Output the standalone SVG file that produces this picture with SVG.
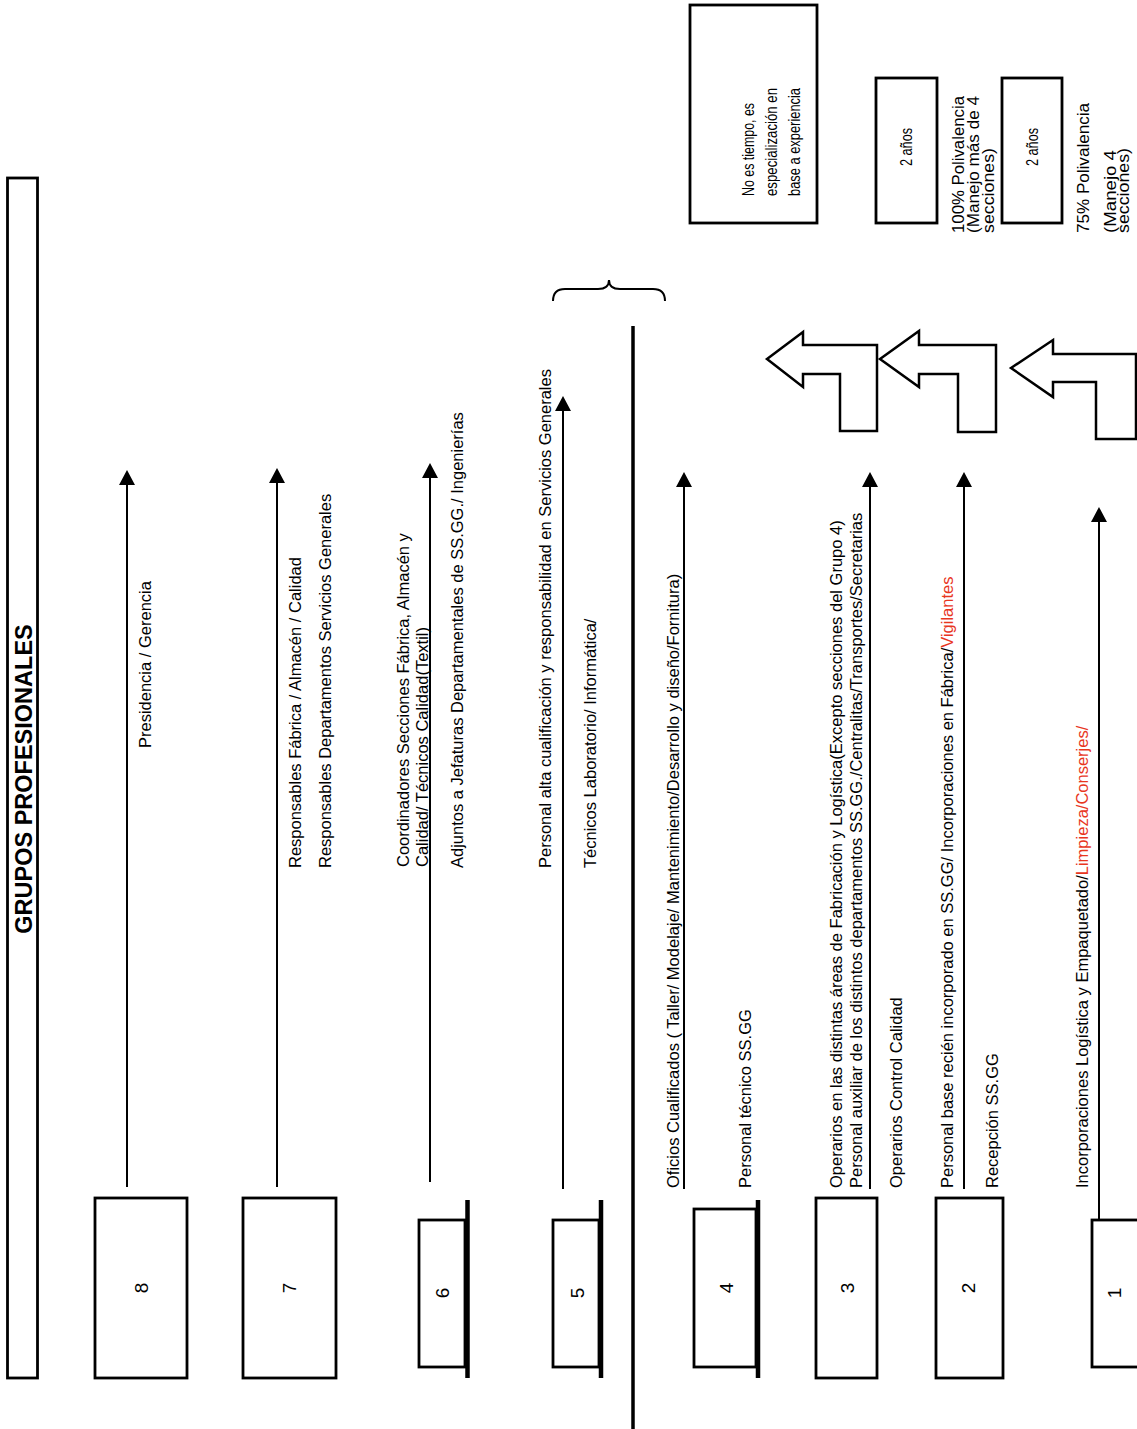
<svg xmlns="http://www.w3.org/2000/svg" width="1137" height="1429" viewBox="0 0 1137 1429">
<style>
text{font-family:"Liberation Sans",Arial,sans-serif;fill:#000}
.t{font-size:16.5px}
.n{font-size:19px}
.s{font-size:16.5px}
.p{font-size:16px}
.title{font-size:23.5px;font-weight:bold}
.red{fill:#e8361e}
.box{fill:#fff;stroke:#000;stroke-width:2.8}
.bar{stroke:#000;stroke-width:4.5}
.ln{stroke:#000;stroke-width:2;fill:none;marker-end:url(#ah)}
.bent{fill:#fff;stroke:#000;stroke-width:2.5;stroke-linejoin:miter}
</style>
<defs>
<marker id="ah" markerUnits="userSpaceOnUse" markerWidth="16" markerHeight="16" refX="13" refY="8" orient="auto" viewBox="0 0 16 16">
<path d="M0,0 L15,8 L0,16 z" fill="#000"/>
</marker>
</defs>
<rect width="1137" height="1429" fill="#fff"/>

<g id="title">
<rect x="7.5" y="178" width="30" height="1200" class="box"/>
<text class="title" text-anchor="middle" transform="translate(31.5,779) rotate(-90)">GRUPOS PROFESIONALES</text>
</g>

<g id="connectors">
<path class="ln" d="M127,1187 L127,472"/>
<path class="ln" d="M277,1187 L277,470"/>
<path class="ln" d="M430,1182 L430,465"/>
<path class="ln" d="M563,1189 L563,398"/>
<path class="ln" d="M684,1189 L684,474"/>
<path class="ln" d="M870,1189 L870,474"/>
<path class="ln" d="M964,1189 L964,474"/>
<path class="ln" d="M1099,1225 L1099,509"/>
<line x1="633" y1="326" x2="633" y2="1429" stroke="#000" stroke-width="3.5"/>
<path d="M553,301 Q553,289 565,289 L598,289 Q609,289 609,280 Q609,289 620,289 L653,289 Q665,289 665,301" fill="none" stroke="#000" stroke-width="2"/>
</g>

<g id="g8">
<rect x="95" y="1198" width="92" height="180" class="box"/>
<text class="n" text-anchor="middle" dy=".35em" transform="translate(141,1288) rotate(-90)">8</text>
<text class="t" transform="translate(151,748) rotate(-90)">Presidencia / Gerencia</text>
</g>

<g id="g7">
<rect x="243" y="1198" width="93" height="180" class="box"/>
<text class="n" text-anchor="middle" dy=".35em" transform="translate(289,1288) rotate(-90)">7</text>
<text class="t" transform="translate(301,868) rotate(-90)">Responsables Fábrica / Almacén / Calidad</text>
<text class="t" transform="translate(331,868) rotate(-90)">Responsables Departamentos Servicios Generales</text>
</g>

<g id="g6">
<rect x="419" y="1220" width="46" height="147" class="box"/>
<line x1="467.5" y1="1200" x2="467.5" y2="1378" class="bar"/>
<text class="n" text-anchor="middle" dy=".35em" transform="translate(442,1293) rotate(-90)">6</text>
<text class="t" transform="translate(408.5,867) rotate(-90)">Coordinadores Secciones Fábrica, Almacén y</text>
<text class="t" transform="translate(427.5,867) rotate(-90)">Calidad/ Técnicos Calidad(Textil)</text>
<text class="t" transform="translate(462.5,868) rotate(-90)">Adjuntos a Jefaturas Departamentales de SS.GG./ Ingenierías</text>
</g>

<g id="g5">
<rect x="553" y="1220" width="46" height="147" class="box"/>
<line x1="601" y1="1200" x2="601" y2="1378" class="bar"/>
<text class="n" text-anchor="middle" dy=".35em" transform="translate(577,1293) rotate(-90)">5</text>
<text class="t" transform="translate(550.5,868) rotate(-90)">Personal alta cualificación y responsabilidad en Servicios Generales</text>
<text class="t" transform="translate(595.5,868) rotate(-90)">Técnicos Laboratorio/ Informática/</text>
</g>

<g id="g4">
<rect x="694" y="1209" width="62" height="158" class="box"/>
<line x1="758" y1="1200" x2="758" y2="1378" class="bar"/>
<text class="n" text-anchor="middle" dy=".35em" transform="translate(726,1288) rotate(-90)">4</text>
<text class="t" transform="translate(678.5,1188) rotate(-90)">Oficios Cualificados ( Taller/ Modelaje/ Mantenimiento/Desarrollo y diseño/Fornitura)</text>
<text class="t" transform="translate(750.5,1188) rotate(-90)">Personal técnico SS.GG</text>
</g>

<g id="g3">
<rect x="816" y="1198" width="61" height="180" class="box"/>
<text class="n" text-anchor="middle" dy=".35em" transform="translate(847,1288) rotate(-90)">3</text>
<text class="t" transform="translate(841.5,1188) rotate(-90)">Operarios en las distintas áreas de Fabricación y Logística(Excepto secciones del Grupo 4)</text>
<text class="t" transform="translate(861.5,1188) rotate(-90)">Personal auxiliar de los distintos departamentos SS.GG./Centralitas/Transportes/Secretarias</text>
<text class="t" transform="translate(901.5,1188) rotate(-90)">Operarios Control Calidad</text>
</g>

<g id="g2">
<rect x="936" y="1198" width="67" height="180" class="box"/>
<text class="n" text-anchor="middle" dy=".35em" transform="translate(968,1288) rotate(-90)">2</text>
<text class="t" transform="translate(952.5,1188) rotate(-90)">Personal base recién incorporado en  SS.GG/ Incorporaciones en Fábrica/<tspan class="red">Vigilantes</tspan></text>
<text class="t" transform="translate(997.5,1188) rotate(-90)">Recepción SS.GG</text>
</g>

<g id="g1">
<rect x="1092" y="1220" width="60" height="147" class="box"/>
<text class="n" text-anchor="middle" dy=".35em" transform="translate(1114,1293) rotate(-90)">1</text>
<text class="t" transform="translate(1087.5,1188) rotate(-90)">Incorporaciones Logística y Empaquetado/<tspan class="red">Limpieza/Conserjes/</tspan></text>
</g>

<g id="note-experience">
<rect x="690" y="5" width="127" height="218" class="box"/>
<text class="s" textLength="93" lengthAdjust="spacingAndGlyphs" transform="translate(753.5,196) rotate(-90)">No es tiempo, es</text>
<text class="s" textLength="108" lengthAdjust="spacingAndGlyphs" transform="translate(776.5,196) rotate(-90)">especialización en</text>
<text class="s" textLength="108" lengthAdjust="spacingAndGlyphs" transform="translate(799.5,196) rotate(-90)">base a experiencia</text>
</g>

<g id="note-2y-a">
<rect x="876" y="78" width="61" height="145" class="box"/>
<text class="s" text-anchor="middle" textLength="38" lengthAdjust="spacingAndGlyphs" dy=".35em" transform="translate(906,147) rotate(-90)">2 años</text>
<text class="p" textLength="137" lengthAdjust="spacingAndGlyphs" transform="translate(964,233) rotate(-90)">100% Polivalencia</text>
<text class="p" textLength="137" lengthAdjust="spacingAndGlyphs" transform="translate(979,233) rotate(-90)">(Manejo más de 4</text>
<text class="p" textLength="85" lengthAdjust="spacingAndGlyphs" transform="translate(994,233) rotate(-90)">secciones)</text>
</g>

<g id="note-2y-b">
<rect x="1002" y="78" width="60" height="145" class="box"/>
<text class="s" text-anchor="middle" textLength="38" lengthAdjust="spacingAndGlyphs" dy=".35em" transform="translate(1032,147) rotate(-90)">2 años</text>
<text class="p" textLength="130" lengthAdjust="spacingAndGlyphs" transform="translate(1089,233) rotate(-90)">75% Polivalencia</text>
<text class="p" textLength="83" lengthAdjust="spacingAndGlyphs" transform="translate(1115.5,233) rotate(-90)">(Manejo 4</text>
<text class="p" textLength="85" lengthAdjust="spacingAndGlyphs" transform="translate(1129,233) rotate(-90)">secciones)</text>
</g>

<g id="bent-arrows">
<polygon class="bent" points="767,359 803,332 803,345 877,345 877,431 840,431 840,374 803,374 803,387"/>
<polygon class="bent" points="880,359 919,331 919,345 996,345 996,432 958,432 958,374 919,374 919,387"/>
<polygon class="bent" points="1011,368 1053,340 1053,354 1136,354 1136,439 1096,439 1096,382 1053,382 1053,397"/>
</g>
</svg>
